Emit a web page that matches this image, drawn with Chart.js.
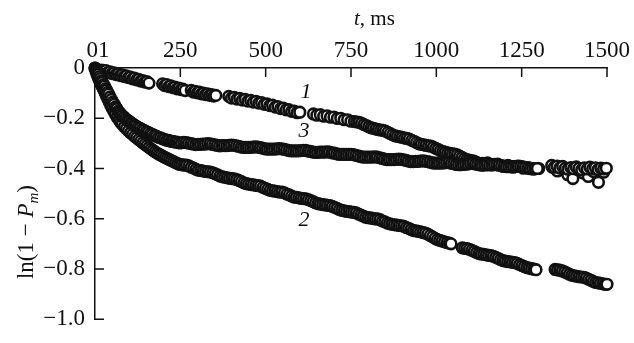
<!DOCTYPE html>
<html>
<head>
<meta charset="utf-8">
<script src="https://cdn.jsdelivr.net/npm/chart.js@4.4.1/dist/chart.umd.min.js"></script>
<style>
  body { margin: 0; background: #fff; }
</style>
</head>
<body>
<canvas id="myChart" width="634" height="343"></canvas>
<script>
// tick labels
const xTicks = [0, 250, 500, 750, 1000, 1250, 1500];
const yTicks = [0, -0.2, -0.4, -0.6, -0.8, -1.0];

// curve 1
const t1 = [20,26,32,38,44,50,56,62,68,74,80,86,92,98,104,110,116,122,128,134,140,146,152,158,
	198,204,210,216,222,228,234,240,246,252,258,264,
	282,288,294,300,306,312,318,324,330,336,342,348,354,
	392,400,408,416,424,432,440,448,456,464,472,480,488,496,504,512,520,528,536,544,552,560,568,576,584,592,600,
	640,650,660,670,680,690,700,710,720,730,740,750,
	760,767,774,781,788,795,802,809,816,823,
	830,837,844,851,858,865,872,879,886,893,
	900,907,914,921,928,935,942,949,956,963,
	970,977,984,991,998,1005,1012,1019,1026,1033,
	1040,1047,1054,1061,1068,1075,1082,1089,1096,1103,
	1110,1117,
	1135,1150,1165,1180,1195,1210,1225,1240,1255,1270,1285,1300,
	1340,1355,1370,1385,1400,1415,1430,1445,1460,1475,1490];
const v1 = [-0.008,-0.014,-0.010,-0.018,-0.015,-0.022,-0.019,-0.026,-0.023,-0.030,-0.027,-0.034,-0.031,-0.038,-0.036,-0.043,-0.040,-0.047,-0.045,-0.052,-0.050,-0.056,-0.054,-0.060,
	-0.063,-0.070,-0.066,-0.074,-0.071,-0.078,-0.076,-0.083,-0.080,-0.086,-0.084,-0.090,
	-0.089,-0.096,-0.093,-0.099,-0.096,-0.103,-0.100,-0.106,-0.103,-0.109,-0.106,-0.112,-0.109,
	-0.113,-0.120,-0.117,-0.124,-0.121,-0.128,-0.125,-0.132,-0.129,-0.136,-0.133,-0.140,-0.138,-0.145,-0.143,-0.150,-0.148,-0.156,-0.154,-0.162,-0.160,-0.167,-0.166,-0.173,-0.172,-0.178,-0.176,
	-0.183,-0.188,-0.186,-0.192,-0.190,-0.196,-0.195,-0.201,-0.200,-0.206,-0.206,-0.212,
	-0.213,-0.215,-0.216,-0.220,-0.225,-0.229,-0.234,-0.238,-0.240,-0.243,
	-0.245,-0.247,-0.248,-0.251,-0.256,-0.261,-0.266,-0.270,-0.272,-0.274,
	-0.276,-0.279,-0.280,-0.283,-0.288,-0.292,-0.297,-0.302,-0.304,-0.306,
	-0.308,-0.310,-0.311,-0.315,-0.320,-0.324,-0.329,-0.333,-0.335,-0.338,
	-0.340,-0.342,-0.343,-0.346,-0.351,-0.356,-0.361,-0.365,-0.367,-0.369,
	-0.371,-0.375,
	-0.380,-0.378,-0.386,-0.383,-0.391,-0.388,-0.395,-0.392,-0.399,-0.396,-0.403,-0.400,
	-0.395,-0.410,-0.402,-0.425,-0.440,-0.405,-0.418,-0.432,-0.412,-0.455,-0.415];

// curve 2
const t2 = [0,3,6,9,12,15,18,21,24,27,30,34,38,42,46,50,55,60,65,70,75,80,86,92,98,104,110,116,122,128,
	134,140,146,152,158,164,170,176,182,188,194,200,206,212,218,224,230,236,242,248,
	254,261,268,275,282,289,296,303,310,317,
	324,331,338,345,352,359,366,373,380,387,
	394,401,408,415,422,429,436,443,450,457,
	464,471,478,485,492,499,506,513,520,527,
	534,541,548,555,562,569,576,583,590,597,
	604,611,618,625,632,639,646,653,660,667,
	674,681,688,695,702,709,716,723,730,737,
	744,751,758,765,772,779,786,793,800,807,
	814,821,828,835,842,849,856,863,870,877,
	884,891,898,905,912,919,926,933,940,947,
	954,961,968,975,982,989,996,1003,1010,1017,
	1024,1031,1038,1043,
	1076,1083,1090,1097,1104,1111,1118,1125,1132,1139,
	1146,1153,1160,1167,1174,1181,1188,1195,1202,1209,
	1216,1223,1230,1237,1244,1251,1258,1265,1272,1279,
	1286,1292,
	1348,1355,1362,1369,1376,1383,1390,1397,1404,1411,
	1418,1425,1432,1439,1446,1453,1460,1467,1474,1481,
	1488,1495,1500];
const v2 = [0,-0.014,-0.026,-0.036,-0.046,-0.056,-0.064,-0.074,-0.082,-0.091,-0.100,-0.112,-0.124,-0.136,-0.148,-0.159,-0.172,-0.184,-0.196,-0.206,-0.216,-0.224,-0.234,-0.242,-0.250,-0.258,-0.264,-0.272,-0.278,-0.285,
	-0.291,-0.298,-0.304,-0.310,-0.316,-0.322,-0.328,-0.334,-0.339,-0.344,-0.348,-0.353,-0.357,-0.361,-0.365,-0.369,-0.373,-0.377,-0.381,-0.384,
	-0.385,-0.387,-0.387,-0.390,-0.395,-0.398,-0.403,-0.407,-0.408,-0.410,
	-0.412,-0.413,-0.414,-0.417,-0.421,-0.425,-0.430,-0.433,-0.435,-0.437,
	-0.439,-0.440,-0.441,-0.444,-0.448,-0.452,-0.457,-0.460,-0.462,-0.464,
	-0.465,-0.467,-0.468,-0.470,-0.475,-0.479,-0.483,-0.487,-0.489,-0.490,
	-0.492,-0.494,-0.494,-0.497,-0.502,-0.505,-0.510,-0.514,-0.515,-0.517,
	-0.519,-0.520,-0.521,-0.524,-0.528,-0.532,-0.537,-0.540,-0.542,-0.544,
	-0.545,-0.547,-0.548,-0.551,-0.555,-0.559,-0.564,-0.567,-0.569,-0.571,
	-0.572,-0.574,-0.575,-0.577,-0.582,-0.586,-0.590,-0.594,-0.596,-0.597,
	-0.599,-0.601,-0.601,-0.604,-0.609,-0.612,-0.617,-0.620,-0.622,-0.624,
	-0.625,-0.627,-0.628,-0.630,-0.635,-0.638,-0.643,-0.647,-0.648,-0.650,
	-0.652,-0.655,-0.657,-0.661,-0.667,-0.672,-0.678,-0.683,-0.686,-0.689,
	-0.692,-0.695,-0.697,-0.700,
	-0.716,-0.718,-0.719,-0.722,-0.726,-0.730,-0.735,-0.739,-0.741,-0.742,
	-0.744,-0.746,-0.747,-0.750,-0.754,-0.758,-0.763,-0.767,-0.769,-0.771,
	-0.772,-0.774,-0.775,-0.778,-0.783,-0.787,-0.791,-0.795,-0.797,-0.799,
	-0.801,-0.803,
	-0.802,-0.804,-0.805,-0.808,-0.812,-0.816,-0.821,-0.825,-0.827,-0.829,
	-0.831,-0.832,-0.833,-0.836,-0.841,-0.845,-0.850,-0.854,-0.855,-0.857,
	-0.859,-0.861,-0.861];

// curve 3
const t3 = [0,2,4,6,8,10,13,16,19,22,25,28,31,34,37,40,44,48,52,56,60,64,68,72,76,80,85,90,95,100,105,110,115,120,
	126,132,138,144,150,156,162,168,174,180,186,192,198,204,210,216,222,228,234,240,
	246,253,260,267,274,281,288,295,302,309,
	316,323,330,337,344,351,358,365,372,379,
	386,393,400,407,414,421,428,435,442,449,
	456,463,470,477,484,491,498,505,512,519,
	526,533,540,547,554,561,568,575,582,589,
	596,603,610,617,624,631,638,645,652,659,
	666,673,680,687,694,701,708,715,722,729,
	736,743,750,757,764,771,778,785,792,799,
	806,813,820,827,834,841,848,855,862,869,
	876,883,890,897,904,911,918,925,932,939,
	946,953,960,967,974,981,988,995,1002,1009,
	1016,1023,1030,1037,1044,1051,1058,1065,1072,1079,
	1086,1093,1100,1107,1114,1121,1128,1135,1142,1149,
	1156,1163,1170,1177,1184,1191,1198,1205,1212,1219,
	1226,1233,1240,1247,1254,1261,1268,1275,1282,1289,
	1296,
	1338,1346,1354,1362,1370,1378,1386,1394,1402,1410,
	1418,1426,1434,1442,1450,1458,1466,1474,1482,1490,1498];
const v3 = [0,-0.004,-0.009,-0.014,-0.021,-0.025,-0.034,-0.042,-0.051,-0.057,-0.066,-0.072,-0.082,-0.088,-0.097,-0.104,-0.115,-0.125,-0.136,-0.144,-0.155,-0.162,-0.172,-0.178,-0.185,-0.190,-0.196,-0.202,-0.208,-0.212,-0.218,-0.222,-0.227,-0.231,
	-0.236,-0.240,-0.245,-0.248,-0.253,-0.256,-0.261,-0.264,-0.269,-0.271,-0.276,-0.278,-0.282,-0.284,-0.288,-0.288,-0.292,-0.292,-0.295,-0.295,
	-0.298,-0.298,-0.296,-0.297,-0.299,-0.301,-0.303,-0.305,-0.304,-0.304,
	-0.303,-0.303,-0.301,-0.302,-0.304,-0.306,-0.308,-0.310,-0.309,-0.309,
	-0.309,-0.308,-0.307,-0.308,-0.310,-0.312,-0.315,-0.316,-0.316,-0.316,
	-0.316,-0.315,-0.314,-0.315,-0.317,-0.319,-0.322,-0.323,-0.323,-0.323,
	-0.323,-0.322,-0.321,-0.322,-0.324,-0.326,-0.329,-0.330,-0.330,-0.330,
	-0.330,-0.329,-0.328,-0.328,-0.331,-0.332,-0.335,-0.336,-0.336,-0.335,
	-0.335,-0.335,-0.334,-0.335,-0.338,-0.339,-0.342,-0.344,-0.344,-0.344,
	-0.344,-0.344,-0.344,-0.345,-0.348,-0.350,-0.353,-0.355,-0.355,-0.355,
	-0.355,-0.355,-0.354,-0.355,-0.358,-0.360,-0.363,-0.365,-0.365,-0.365,
	-0.365,-0.364,-0.363,-0.364,-0.366,-0.368,-0.371,-0.373,-0.373,-0.372,
	-0.372,-0.371,-0.370,-0.371,-0.373,-0.375,-0.378,-0.379,-0.379,-0.379,
	-0.379,-0.378,-0.377,-0.377,-0.380,-0.381,-0.384,-0.385,-0.385,-0.384,
	-0.383,-0.382,-0.380,-0.380,-0.382,-0.384,-0.386,-0.387,-0.386,-0.385,
	-0.386,-0.385,-0.384,-0.385,-0.387,-0.389,-0.392,-0.393,-0.393,-0.393,
	-0.393,-0.392,-0.391,-0.392,-0.394,-0.396,-0.399,-0.401,-0.400,-0.400,
	-0.400,
	-0.388,-0.395,-0.391,-0.398,-0.392,-0.399,-0.403,-0.396,-0.401,-0.394,
	-0.399,-0.405,-0.397,-0.402,-0.395,-0.401,-0.397,-0.404,-0.398,-0.402,-0.399];

const serif = '"Liberation Serif", "DejaVu Serif", serif';

function toPoints(ts, vs) {
	return ts.map((t, i) => ({x: t, y: vs[i]}));
}

function series(ts, vs) {
	return {
		data: toPoints(ts, vs),
		pointRadius: 5.3,
		pointBorderWidth: 2.6,
		pointBackgroundColor: '#fff',
		pointBorderColor: '#111',
		showLine: false,
		clip: false
	};
}

// inward ticks, axis titles and curve numbers
const decorations = {
	id: 'decorations',
	afterDraw(chart) {
		const ctx = chart.ctx;
		const xs = chart.scales.x;
		const ys = chart.scales.y;
		const area = chart.chartArea;
		ctx.save();
		ctx.strokeStyle = '#111';
		ctx.lineWidth = 1.5;
		ctx.beginPath();
		xTicks.forEach(v => {
			if (v === 0) return;
			const px = xs.getPixelForValue(v);
			ctx.moveTo(px, area.top);
			ctx.lineTo(px, area.top + 9);
		});
		yTicks.forEach(v => {
			if (v === 0) return;
			const py = ys.getPixelForValue(v);
			ctx.moveTo(area.left, py);
			ctx.lineTo(area.left + 9, py);
		});
		ctx.stroke();

		ctx.fillStyle = '#111';
		ctx.textBaseline = 'alphabetic';
		ctx.textAlign = 'left';

		// x title: "t, ms"
		ctx.font = 'italic 21px ' + serif;
		let x = 354;
		ctx.fillText('t', x, 25);
		x += ctx.measureText('t').width;
		ctx.font = '21px ' + serif;
		ctx.fillText(', ms', x, 25);

		// y title: "ln(1 − Pm)", rotated
		const parts = [
			['ln(1 \u2212 ', '23px ', 0],
			['P', 'italic 23px ', 0],
			['m', 'italic 15px ', 5],
			[')', '23px ', 0]
		];
		let total = 0;
		parts.forEach(p => { ctx.font = p[1] + serif; total += ctx.measureText(p[0]).width; });
		ctx.save();
		ctx.translate(33, 232 + total / 2);
		ctx.rotate(-Math.PI / 2);
		x = 0;
		parts.forEach(p => {
			ctx.font = p[1] + serif;
			ctx.fillText(p[0], x, p[2]);
			x += ctx.measureText(p[0]).width;
		});
		ctx.restore();

		// curve numbers
		ctx.font = 'italic 22px ' + serif;
		ctx.textAlign = 'center';
		ctx.textBaseline = 'middle';
		ctx.fillText('1', xs.getPixelForValue(618), ys.getPixelForValue(-0.096));
		ctx.fillText('3', xs.getPixelForValue(612), ys.getPixelForValue(-0.250));
		ctx.fillText('2', xs.getPixelForValue(612), ys.getPixelForValue(-0.606));
		ctx.restore();
	}
};

const myChart = document.getElementById('myChart');

let scatterChart = new Chart(myChart, {
	type: 'scatter',
	data: {
		datasets: [series(t3, v3), series(t2, v2), series(t1, v1)]
	},
	options: {
		responsive: false,
		animation: false,
		devicePixelRatio: 1,
		layout: {
			padding: {left: 0, top: 0, right: 27, bottom: 15}
		},
		plugins: {
			legend: {display: false},
			tooltip: {enabled: false}
		},
		scales: {
			x: {
				type: 'linear',
				position: 'top',
				min: 0,
				max: 1500,
				afterFit: scale => { scale.height = 68; },
				afterBuildTicks: scale => { scale.ticks = xTicks.map(v => ({value: v})); },
				grid: {display: false, drawTicks: false},
				border: {display: true, color: '#111', width: 1.5},
				ticks: {
					color: '#111',
					padding: 3,
					maxRotation: 0,
					font: {family: serif, size: 23},
					callback: v => v === 0 ? ' 01' : String(v)
				}
			},
			y: {
				type: 'linear',
				min: -1,
				max: 0,
				afterFit: scale => { scale.width = 95; },
				afterBuildTicks: scale => { scale.ticks = yTicks.map(v => ({value: v})); },
				grid: {display: false, drawTicks: false},
				border: {display: true, color: '#111', width: 1.5},
				ticks: {
					color: '#111',
					padding: 10,
					font: {family: serif, size: 23},
					callback: v => v === 0 ? '0' : '\u2212' + Math.abs(v).toFixed(1)
				}
			}
		}
	},
	plugins: [decorations]
});
</script>
</body>
</html>
